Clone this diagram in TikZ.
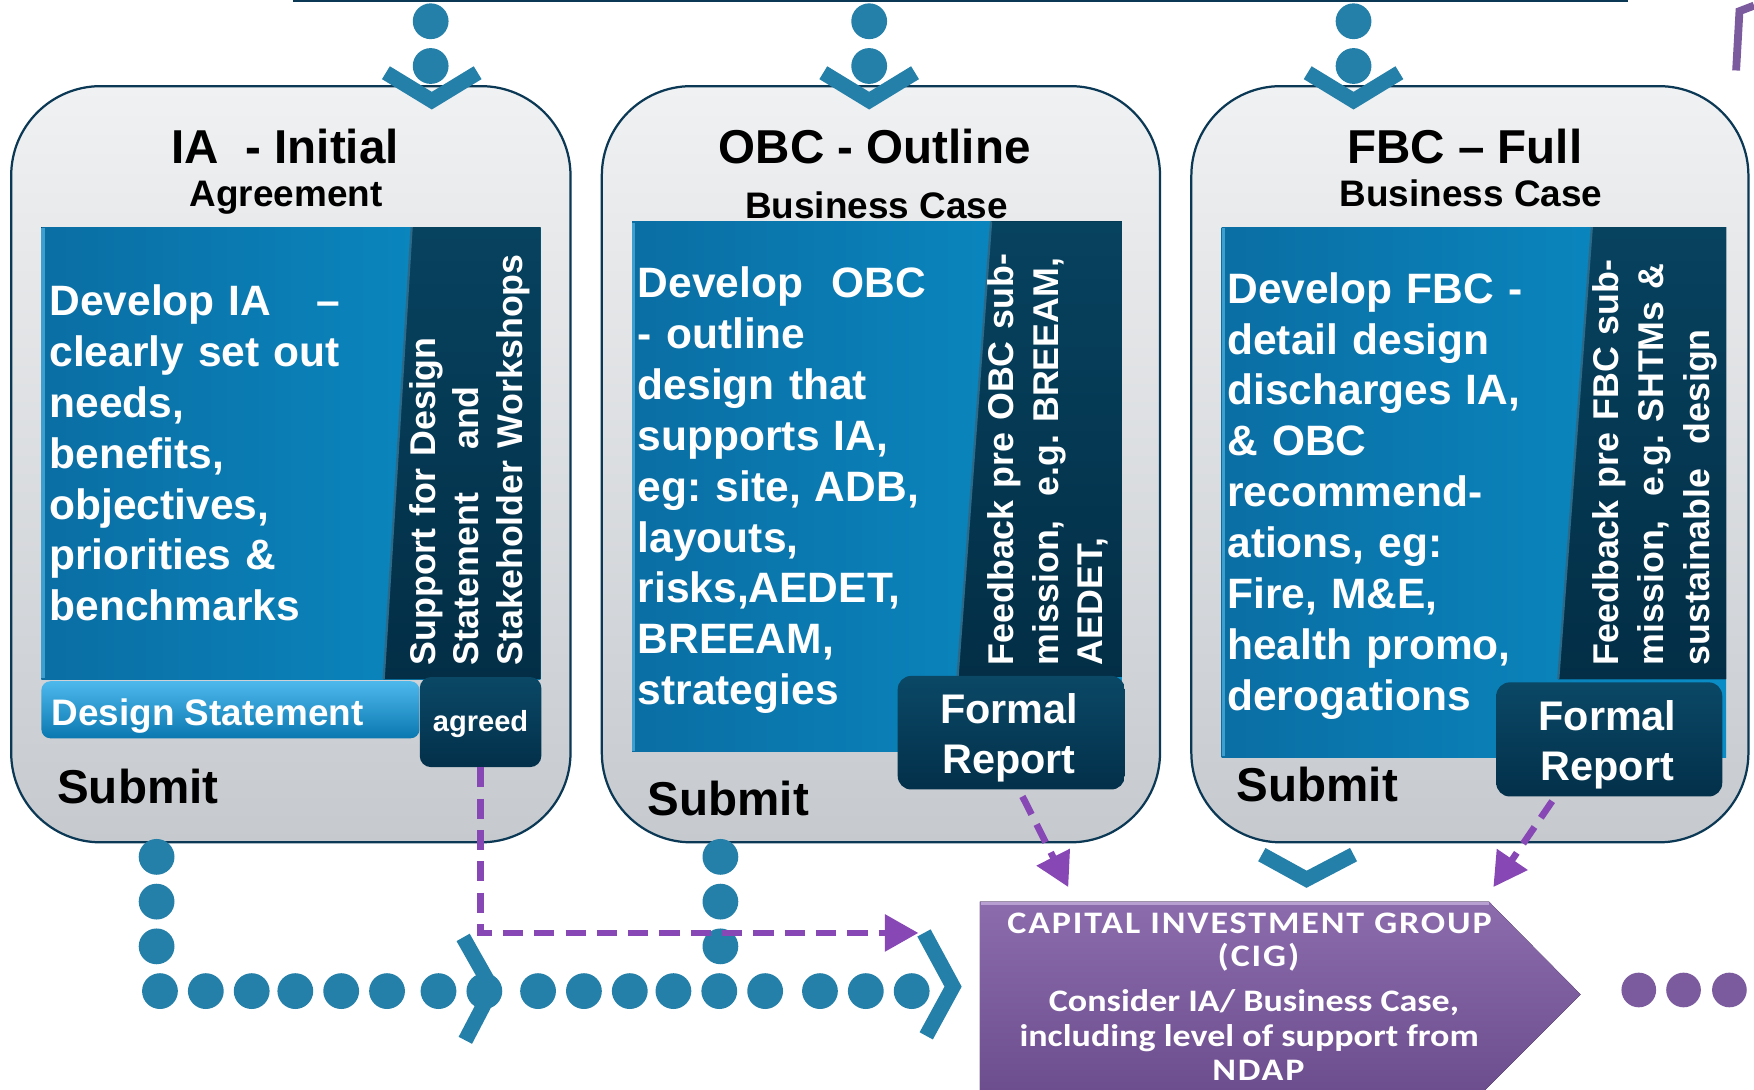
\documentclass[tikz,border=0pt]{standalone}
\usepackage{fontspec}
\setmainfont{Liberation Sans}
\newfontfamily\cigfont[FakeStretch=1.15]{Carlito}
\newfontfamily\cigcaps[FakeStretch=1.15,LetterSpace=6]{Carlito}
\usetikzlibrary{arrows.meta}
\definecolor{navy}{HTML}{0B3854}
\definecolor{boxtop}{HTML}{F0F1F2}
\definecolor{boxbot}{HTML}{C6CACF}
\definecolor{panelL}{HTML}{0A6EA3}
\definecolor{panelR}{HTML}{0A8DC6}
\definecolor{panelEdge}{HTML}{3D9FCF}
\definecolor{stripT}{HTML}{07425F}
\definecolor{stripB}{HTML}{032E46}
\definecolor{stripEdge}{HTML}{2C6A8A}
\definecolor{frtop}{HTML}{0A4866}
\definecolor{frbot}{HTML}{03304A}
\definecolor{dsT}{HTML}{4DB8EC}
\definecolor{dsB}{HTML}{0A78B0}
\definecolor{dotc}{HTML}{2580A9}
\definecolor{purp}{HTML}{8748B5}
\definecolor{cigT}{HTML}{8C6CAD}
\definecolor{cigB}{HTML}{6A4B8C}
\definecolor{cigEdge}{HTML}{B89FD2}
\definecolor{purdot}{HTML}{7B5A9E}
\frenchspacing
\begin{document}
\begin{tikzpicture}[x=1pt,y=-1pt,
  stagebox/.style={draw=navy,line width=2pt,rounded corners=80pt,top color=boxtop,bottom color=boxbot},
  panel/.style={left color=panelL,right color=panelR},
  strip/.style={top color=stripT,bottom color=stripB},
  darkbox/.style={draw=none,rounded corners=12pt,top color=frtop,bottom color=frbot,inner sep=0pt},
  ttl/.style={inner sep=0pt,anchor=base,font=\bfseries\fontsize{42.5}{48}\selectfont},
  subttl/.style={inner sep=0pt,anchor=base,font=\bfseries\fontsize{33}{38}\selectfont},
  body/.style={inner sep=0pt,anchor=base west,align=left,text width=400pt,text=white,font=\bfseries\fontsize{38}{45.5}\selectfont},
  vtext/.style={inner sep=0pt,anchor=base west,align=left,text width=420pt,text=white,rotate=90,font=\bfseries\fontsize{32}{40}\selectfont},
  frtext/.style={inner sep=0pt,anchor=base,align=center,text width=200pt,text=white,font=\bfseries\fontsize{37}{44.7}\selectfont},
  submit/.style={inner sep=0pt,anchor=base west,font=\bfseries\fontsize{42.5}{48}\selectfont},
  chev/.style={draw=dotc,line width=13.5pt,line join=miter,line cap=butt},
  pdash/.style={draw=purp,line width=6pt,dash pattern=on 18pt off 10pt,-{Triangle[length=30pt,width=32pt]}},
  cigt/.style={inner sep=0pt,anchor=base,text=white,font=\cigfont\bfseries\fontsize{28}{30}\selectfont},
  cigc/.style={inner sep=0pt,anchor=base,text=white,font=\cigcaps\bfseries\fontsize{28}{30}\selectfont},
]
\useasboundingbox (0,0) rectangle (1568,974);
\clip (0,0) rectangle (1568,974);

% top bar edge
\draw[navy,line width=2pt] (262,1) -- (1455,1);
% purple bracket top right
\draw[purdot,line width=7pt] (1552,63) -- (1555,10) -- (1568,5);

% top dots
\foreach \x in {385,777,1210} {
  \fill[dotc] (\x,19) circle[radius=16pt];
  \fill[dotc] (\x,59) circle[radius=16pt];
}

% stage boxes
\path[stagebox] (10,77) rectangle (510,753);
\path[stagebox] (538,77) rectangle (1037,753);
\path[stagebox] (1065,77) rectangle (1563,753);

% chevrons on top
\draw[chev] (345,65) -- (386,90) -- (427,65);
\draw[chev] (736,65) -- (777,90) -- (818,65);
\draw[chev] (1169,65) -- (1210,90) -- (1251,65);

% titles
\node[ttl] (t1) at (255,146) {IA\ \ - Initial};
\node[subttl] (s1) at (255.7,185) {Agreement};
\node[ttl] (t2) at (782,146) {OBC - Outline};
\node[subttl] (s2) at (783.5,195.5) {Business Case};
\node[ttl] (t3) at (1309.5,146) {FBC – Full};
\node[subttl] (s3) at (1315,185) {Business Case};

% ---------- box 1 panel
\fill[panel] (37,203) rectangle (483,607);
\draw[panelEdge,line width=3pt] (38.5,204) -- (38.5,606);
\fill[strip] (368,203) -- (483,203) -- (483,607) -- (343,607) -- cycle;
\draw[stripEdge,line width=2pt] (368,203) -- (343,607);
\node[body] (b1) at (44,282) {Develop IA\hspace{40pt}–\\clearly set out\\needs,\\benefits,\\objectives,\\priorities \&\\benchmarks};
\node[vtext,font=\bfseries\fontsize{32}{39}\selectfont] (v1) at (389,595) {Support for Design\\Statement\hspace{38pt}and\\Stakeholder Workshops};
\node[draw=none,rounded corners=8pt,top color=dsT,bottom color=dsB,minimum width=338pt,minimum height=51pt,inner sep=0pt] (dsbar) at (206,634.5) {};
\node[inner sep=0pt,anchor=base west,text=white,font=\bfseries\fontsize{33}{38}\selectfont] (dstext) at (46,649) {Design Statement};
\node[darkbox,rounded corners=10pt,minimum width=108.7pt,minimum height=80.5pt] (agreed) at (429.6,645.5) {};
\node[inner sep=0pt,anchor=base,text=white,font=\bfseries\fontsize{26}{30}\selectfont] (agreedt) at (429.6,654) {agreed};
\node[submit] (sub1) at (51,718) {Submit};

% ---------- box 2 panel
\fill[panel] (565,198) rectangle (1003,672);
\draw[panelEdge,line width=3pt] (566.5,199) -- (566.5,671);
\fill[strip] (886,198) -- (1003,198) -- (1003,605) -- (856,605) -- cycle;
\draw[stripEdge,line width=2pt] (886,198) -- (856,605);
\node[body] (b2) at (570,266) {Develop\ \ OBC\\- outline\\design that\\supports IA,\\eg: site, ADB,\\layouts,\\risks,AEDET,\\BREEAM,\\strategies};
\node[vtext] (v2) at (906,595) {Feedback pre OBC sub-\\mission,\ \ e.g. BREEAM,\\AEDET,};
\node[darkbox,minimum width=203pt,minimum height=101.5pt] (frep2) at (904,655) {};
\node[frtext] (fr2t) at (902,646.6) {Formal\\Report};
\node[submit] (sub2) at (579,728.6) {Submit};

% ---------- box 3 panel
\fill[panel] (1092,203) rectangle (1543,677);
\draw[panelEdge,line width=3pt] (1093.5,204) -- (1093.5,676);
\fill[strip] (1423,203) -- (1543,203) -- (1543,607) -- (1393,607) -- cycle;
\draw[stripEdge,line width=2pt] (1423,203) -- (1393,607);
\node[body] (b3) at (1097,271) {Develop FBC -\\detail design\\discharges IA,\\\& OBC\\recommend-\\ations, eg:\\Fire, M\&E,\\health promo,\\derogations};
\node[vtext,font=\bfseries\fontsize{32}{40.5}\selectfont] (v3) at (1447,595) {Feedback pre FBC sub-\\mission,\ \ e.g. SHTMs \&\\sustainable\ \ design};
\node[darkbox,minimum width=202pt,minimum height=102pt] (frep3) at (1438.6,661) {};
\node[frtext] (fr3t) at (1437,652.6) {Formal\\Report};
\node[submit] (sub3) at (1105.5,716.7) {Submit};

% bottom chevron under box 3
\draw[chev] (1128,764) -- (1168,786) -- (1210,764);

% dots bottom
\foreach \y in {766,806,846} {
  \fill[dotc] (140,\y) circle[radius=16pt];
  \fill[dotc] (644,\y) circle[radius=16pt];
}
\foreach \x in {143,184,225,264,305,346,392,433,481,522,563,602,643,684,733,774,815}
  \fill[dotc] (\x,886) circle[radius=16pt];
\draw[chev] (414,838) -- (440,884) -- (416,930);
\draw[chev] (826,834) -- (852,882) -- (828,926);

% CIG pentagon
\fill[top color=cigT,bottom color=cigB] (876,806) -- (1331,806) -- (1413,889) -- (1316,986) -- (876,986) -- cycle;
\draw[cigEdge,line width=3pt] (877,807.5) -- (1331,807.5);
\node[cigc] (cig1) at (1117,834.4) {CAPITAL INVESTMENT GROUP};
\node[cigc] (cig2) at (1125,864.2) {(CIG)};
\node[cigt] (cig3) at (1121,904.4) {Consider IA/ Business Case,};
\node[cigt] (cig4) at (1116.7,935.7) {including level of support from};
\node[cigc] (cig5) at (1125,965.5) {NDAP};

% purple dots
\foreach \x in {1465,1505,1546}
  \fill[purdot] (\x,885) circle[radius=15.5pt];

% purple dashed connectors
\coordinate (a1end) at (821,834);
\coordinate (a2end) at (955,793);
\coordinate (a3end) at (1335,793);
\draw[pdash] (agreed.south) |- (a1end);
\draw[pdash] ([xshift=10pt,yshift=-6pt]frep2.south) -- (a2end);
\draw[pdash] ([xshift=-51pt,yshift=-4pt]frep3.south) -- (a3end);
\end{tikzpicture}
\end{document}
